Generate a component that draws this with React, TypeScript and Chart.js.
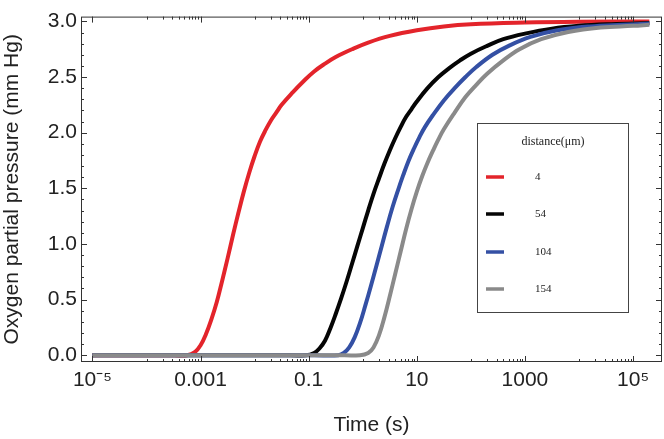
import { useEffect, useRef } from "react";
import { Chart, registerables } from "chart.js";

Chart.register(...registerables);

// ---- data ----
const seriesLabels = ["4", "54", "104", "154"];
const seriesColors = ["#e3242b", "#050505", "#3450a4", "#8a8a8a"];
const legendTitle = "distance(μm)";

const redTime = [1e-5, 1e-4, 3.16e-4, 5.62e-4, 7.94e-4, 1.0e-3, 1.26e-3, 1.58e-3, 2.0e-3, 2.51e-3, 3.16e-3, 3.98e-3, 5.01e-3, 6.31e-3, 7.94e-3, 0.01, 0.0126, 0.0158, 0.02, 0.0251, 0.0316, 0.0501, 0.0794, 0.126, 0.2, 0.316, 0.631, 1.26, 3.16, 10, 31.6, 100, 1000, 1e4, 2e5];
const redPressure = [0, 0, 0, 0, 0.03, 0.09, 0.19, 0.32, 0.48, 0.67, 0.87, 1.08, 1.28, 1.47, 1.64, 1.79, 1.92, 2.02, 2.11, 2.18, 2.25, 2.36, 2.46, 2.55, 2.62, 2.68, 2.75, 2.81, 2.87, 2.92, 2.955, 2.975, 2.99, 2.997, 3.0];

const blackTime = [1e-5, 1e-3, 0.0316, 0.0891, 0.126, 0.158, 0.2, 0.251, 0.316, 0.398, 0.501, 0.631, 0.794, 1, 1.26, 1.58, 2.0, 2.51, 3.16, 3.98, 5.01, 6.31, 7.94, 10, 15.8, 25.1, 39.8, 63.1, 100, 200, 398, 1000, 3162, 1e4, 3.98e4, 2e5];
const blackPressure = [0, 0, 0, 0, 0.02, 0.06, 0.13, 0.24, 0.37, 0.51, 0.66, 0.82, 0.98, 1.14, 1.3, 1.45, 1.59, 1.72, 1.84, 1.95, 2.05, 2.14, 2.21, 2.28, 2.4, 2.5, 2.58, 2.65, 2.71, 2.78, 2.84, 2.89, 2.935, 2.96, 2.975, 2.985];

const blueTime = [1e-5, 1e-3, 0.126, 0.355, 0.447, 0.562, 0.708, 0.891, 1.12, 1.41, 1.78, 2.24, 2.82, 3.55, 4.47, 5.62, 7.08, 8.91, 11.2, 14.1, 20, 31.6, 50.1, 79.4, 126, 251, 501, 1259, 3981, 1.58e4, 6.31e4, 2e5];
const bluePressure = [0, 0, 0, 0, 0.02, 0.07, 0.16, 0.29, 0.45, 0.62, 0.8, 0.98, 1.16, 1.33, 1.48, 1.62, 1.75, 1.86, 1.96, 2.05, 2.16, 2.29, 2.4, 2.5, 2.59, 2.7, 2.78, 2.86, 2.92, 2.955, 2.97, 2.98];

const grayTime = [1e-5, 1e-3, 0.316, 0.891, 1.26, 1.58, 2.0, 2.51, 3.16, 3.98, 5.01, 6.31, 7.94, 10, 12.6, 15.8, 20, 25.1, 31.6, 50.1, 79.4, 126, 200, 398, 794, 1995, 6310, 2.51e4, 1e5, 2e5];
const grayPressure = [0, 0, 0, 0, 0.02, 0.07, 0.18, 0.34, 0.53, 0.73, 0.93, 1.13, 1.31, 1.47, 1.61, 1.73, 1.84, 1.94, 2.03, 2.18, 2.32, 2.43, 2.53, 2.65, 2.75, 2.84, 2.905, 2.945, 2.96, 2.97];

const xTickValues = [1e-5, 1e-3, 0.1, 10, 1000, 1e5];
const xTickLabels = ["10⁻⁵", "0.001", "0.1", "10", "1000", "10⁵"];
const yTickValues = [0, 0.5, 1, 1.5, 2, 2.5, 3];
const yTickLabels = ["0.0", "0.5", "1.0", "1.5", "2.0", "2.5", "3.0"];

const xMin = 6.14e-6;
const xMax = 3.43e5;
const yMin = -0.061;
const yMax = 3.043;

const FONT = "'Liberation Sans', Arial, sans-serif";
const SERIF = "'Liberation Serif', 'Times New Roman', serif";

const framePlugin = {
  id: "frame",
  afterDatasetsDraw(chart: any) {
    const { ctx, chartArea: a, scales } = chart;
    const xs = scales.x;
    const ys = scales.y;
    ctx.save();
    ctx.strokeStyle = "#333";
    ctx.lineWidth = 1;
    ctx.strokeRect(a.left + 0.5, a.top + 0.5, a.right - a.left - 1, a.bottom - a.top - 1);
    const vt = (v: number, len: number) => {
      const px = Math.round(xs.getPixelForValue(v)) + 0.5;
      if (px < a.left || px > a.right) return;
      ctx.beginPath();
      ctx.moveTo(px, a.bottom);
      ctx.lineTo(px, a.bottom - len);
      ctx.moveTo(px, a.top);
      ctx.lineTo(px, a.top + len);
      ctx.stroke();
    };
    const ht = (v: number, len: number) => {
      const py = Math.round(ys.getPixelForValue(v)) + 0.5;
      ctx.beginPath();
      ctx.moveTo(a.left, py);
      ctx.lineTo(a.left + len, py);
      ctx.moveTo(a.right, py);
      ctx.lineTo(a.right - len, py);
      ctx.stroke();
    };
    xTickValues.forEach((v) => vt(v, 6));
    for (const n of [-4, -2, 0, 2, 4]) {
      for (let k = 1; k <= 9; k++) vt(k * Math.pow(10, n), 3);
    }
    yTickValues.forEach((v) => ht(v, 6));
    for (let i = 0; i <= 30; i++) ht(i / 10, 3);
    ctx.restore();
  },
  afterDraw(chart: any) {
    const { ctx } = chart;
    const left = 477, top = 123, w = 151, h = 189;
    ctx.save();
    ctx.fillStyle = "#fff";
    ctx.fillRect(left, top, w, h);
    ctx.strokeStyle = "#444";
    ctx.lineWidth = 1;
    ctx.strokeRect(left + 0.5, top + 0.5, w, h);
    ctx.fillStyle = "#222";
    ctx.font = `12px ${SERIF}`;
    ctx.textAlign = "center";
    ctx.textBaseline = "middle";
    ctx.fillText(legendTitle, left + 76, top + 19);
    ctx.font = `11px ${SERIF}`;
    const rows = [177, 214, 252, 289];
    chart.data.datasets.forEach((ds: any, i: number) => {
      const yy = rows[i];
      ctx.strokeStyle = ds.borderColor;
      ctx.lineWidth = 3.5;
      ctx.beginPath();
      ctx.moveTo(486, yy);
      ctx.lineTo(504, yy);
      ctx.stroke();
      ctx.fillStyle = "#222";
      ctx.textAlign = "left";
      ctx.fillText(ds.label, 535, yy);
    });
    ctx.restore();
  },
};

export default function App() {
  const ref = useRef<HTMLCanvasElement>(null);
  useEffect(() => {
    if (!ref.current) return;
    const mk = (t: number[], p: number[]) => t.map((x, i) => ({ x, y: p[i] }));
    const series = [
      [redTime, redPressure],
      [blackTime, blackPressure],
      [blueTime, bluePressure],
      [grayTime, grayPressure],
    ];
    const chart = new Chart(ref.current, {
      type: "line",
      data: {
        datasets: series.map(([t, p], i) => ({
          label: seriesLabels[i],
          data: mk(t, p),
          borderColor: seriesColors[i],
          backgroundColor: seriesColors[i],
          borderWidth: 4,
          pointRadius: 0,
          tension: 0.4,
          order: 3 - i,
        })),
      },
      options: {
        animation: false,
        responsive: true,
        maintainAspectRatio: false,
        layout: { padding: { top: 5, right: 2, left: 0, bottom: 0 } },
        plugins: { legend: { display: false }, tooltip: { enabled: false } },
        scales: {
          x: {
            type: "logarithmic",
            min: xMin,
            max: xMax,
            grid: { display: false, drawTicks: false },
            border: { display: false },
            afterBuildTicks: (s: any) => {
              s.ticks = xTickValues.map((v) => ({ value: v }));
            },
            afterFit: (s: any) => {
              s.height = 77;
            },
            ticks: {
              autoSkip: false,
              maxRotation: 0,
              padding: 6,
              color: "#222",
              font: { family: FONT, size: 21 },
              callback: (_v: any, i: number) => xTickLabels[i],
            },
            title: {
              display: true,
              text: "Time (s)",
              color: "#222",
              font: { family: FONT, size: 21 },
              padding: { top: 0, bottom: 1 },
            },
          },
          y: {
            type: "linear",
            min: yMin,
            max: yMax,
            grid: { display: false, drawTicks: false },
            border: { display: false },
            afterBuildTicks: (s: any) => {
              s.ticks = yTickValues.map((v) => ({ value: v }));
            },
            afterFit: (s: any) => {
              s.width = 81;
            },
            ticks: {
              padding: 4,
              color: "#222",
              font: { family: FONT, size: 21 },
              callback: (_v: any, i: number) => yTickLabels[i],
            },
            title: {
              display: true,
              text: "Oxygen partial pressure (mm Hg)",
              color: "#222",
              font: { family: FONT, size: 21 },
              padding: { top: 0, bottom: 0 },
            },
          },
        },
      },
      plugins: [framePlugin],
    });
    return () => chart.destroy();
  }, []);
  return (
    <div style={{ position: "absolute", left: 0, top: 0, width: 664, height: 439, background: "#fff" }}>
      <canvas ref={ref} />
    </div>
  );
}
